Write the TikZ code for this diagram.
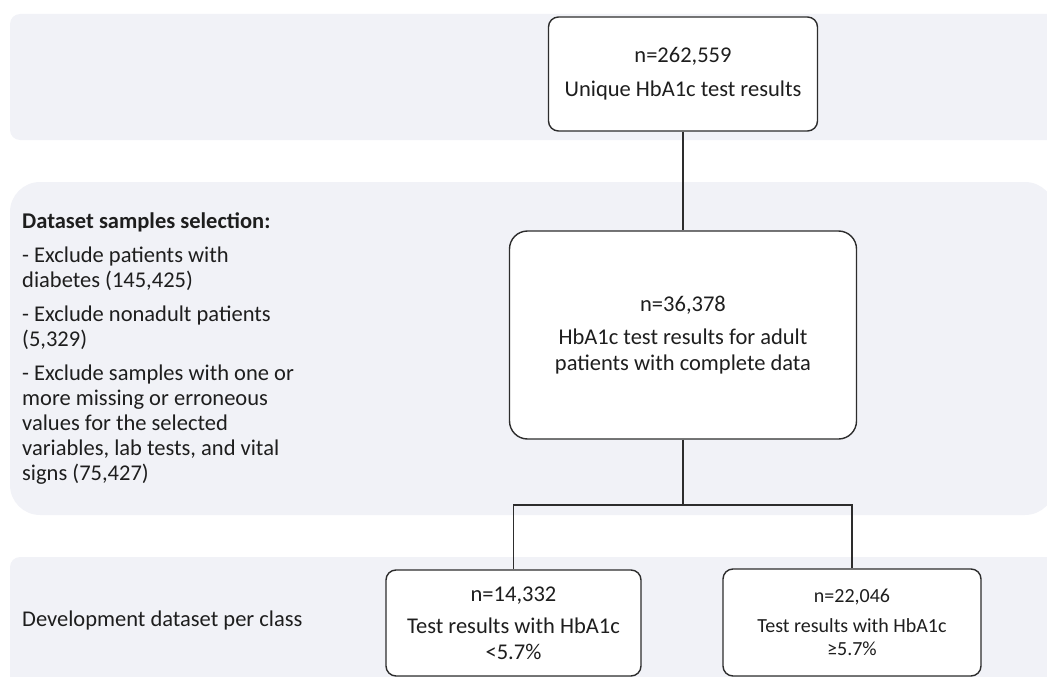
\documentclass[tikz,border=0pt]{standalone}
\usepackage{fontspec}
\setmainfont{Carlito}
\definecolor{bandgray}{RGB}{241, 242, 247}
\definecolor{boxline}{RGB}{45, 45, 45}
\definecolor{textdark}{RGB}{30, 30, 30}
\usepackage{tikz}
\usetikzlibrary{positioning, calc}

\begin{document}
\begin{tikzpicture}[
  x=1pt, y=-1pt,
  band/.style={fill=bandgray},
  fbox/.style={draw=boxline, line width=1.4pt, fill=white, align=center, inner sep=0pt, text=textdark, font=\fontsize{22.5}{26}\selectfont},
  plain/.style={inner sep=0pt, align=left, text=textdark, font=\fontsize{22.5}{25}\selectfont}
]
  \useasboundingbox (0,0) rectangle (1047,677);
  \clip (0,0) rectangle (1047,677);

  % background bands
  \fill[band, rounded corners=10pt] (10,14) rectangle (1065,140);
  \fill[band, rounded corners=30pt] (10,182) rectangle (1055,515);
  \fill[band, rounded corners=10pt] (10,557) rectangle (1065,700);

  % flow boxes
  \node[fbox, minimum width=269pt, minimum height=114pt, rounded corners=10pt] (total) at (683,74)
    {n=262,559\\[8pt]Unique HbA1c test results};
  \node[fbox, minimum width=347pt, minimum height=208pt, rounded corners=18pt] (adult) at (683,335)
    {n=36,378\\[7pt]HbA1c test results for adult\\patients with complete data};
  \node[fbox, minimum width=255pt, minimum height=106pt, rounded corners=10pt] (low) at (513.5,623)
    {n=14,332\\[6pt]Test results with HbA1c\\<5.7\%};
  \node[fbox, minimum width=258pt, minimum height=107pt, rounded corners=10pt, font=\fontsize{20}{23}\selectfont] (high) at (852,622.5)
    {n=22,046\\[7pt]Test results with HbA1c\\≥5.7\%};

  % side labels
  \node[plain, anchor=north west] (selection) at (22,212) {
    \textbf{Dataset samples selection:}\\[9pt]
    - Exclude patients with\\
    diabetes (145,425)\\[9pt]
    - Exclude nonadult patients\\
    (5,329)\\[9pt]
    - Exclude samples with one or\\
    more missing or erroneous\\
    values for the selected\\
    variables, lab tests, and vital\\
    signs (75,427)
  };
  \node[plain, anchor=west] (devlabel) at (22,620) {Development dataset per class};

  % connectors
  \coordinate (split) at (683,505);
  \draw[boxline, line width=1.4pt] (total) -- (adult);
  \draw[boxline, line width=1.4pt] (adult) -- (split);
  \draw[boxline, line width=1.4pt] (low.north) |- (split) -| (high.north);
\end{tikzpicture}
\end{document}
